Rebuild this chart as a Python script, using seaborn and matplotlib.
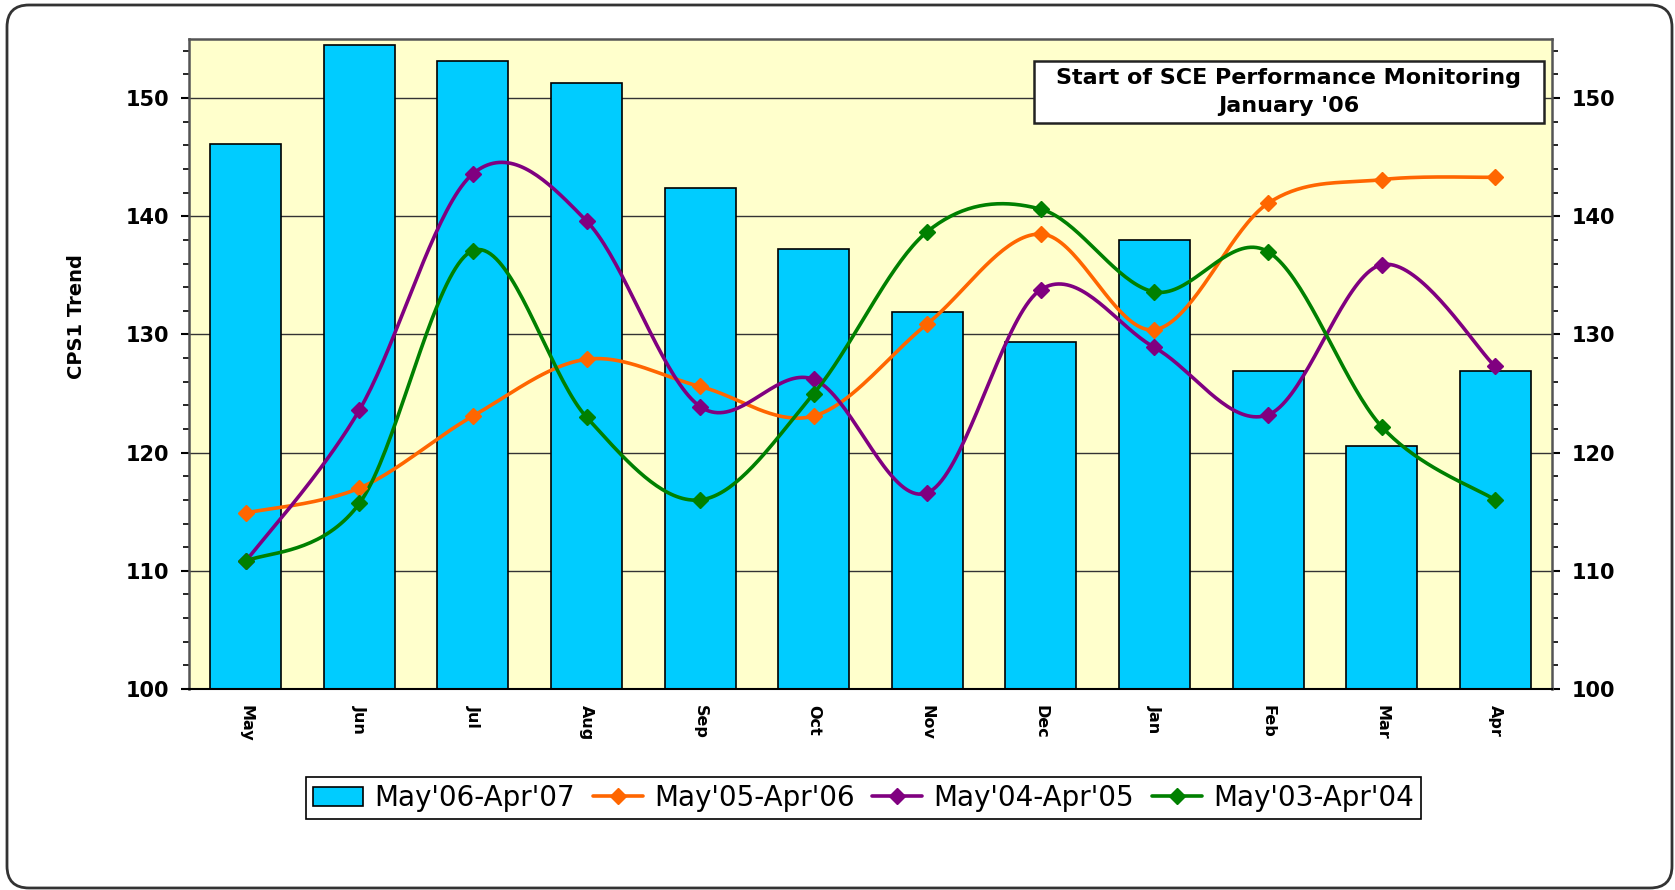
import numpy as np
import matplotlib
matplotlib.use('Agg')
import matplotlib.pyplot as plt
import seaborn as sns
from matplotlib.patches import FancyBboxPatch, Rectangle, Patch
from matplotlib.lines import Line2D
from matplotlib.ticker import MultipleLocator

# datos
meses = ['May', 'Jun', 'Jul', 'Aug', 'Sep', 'Oct', 'Nov', 'Dec', 'Jan', 'Feb', 'Mar', 'Apr']
cps_0607 = [146.1, 154.5, 153.1, 151.3, 142.4, 137.2, 131.9, 129.4, 138.0, 126.9, 120.6, 126.9]
cps_0506 = [114.9, 117.0, 123.1, 127.9, 125.6, 123.1, 130.9, 138.5, 130.4, 141.1, 143.1, 143.3]
cps_0405 = [110.8, 123.6, 143.6, 139.6, 123.9, 126.2, 116.6, 133.8, 128.9, 123.2, 135.9, 127.3]
cps_0304 = [110.8, 115.7, 137.1, 123.0, 116.0, 125.0, 138.7, 140.6, 133.6, 137.0, 122.2, 116.0]

series = [
    ("May'05-Apr'06", cps_0506, '#FF6600'),
    ("May'04-Apr'05", cps_0405, '#800080'),
    ("May'03-Apr'04", cps_0304, '#008000'),
]


def suavizar(xs, ys, n=40):
    # curva suave tipo Excel (bezier / catmull-rom)
    p = np.column_stack([xs, ys]).astype(float)
    p = np.vstack([p[0], p, p[-1]])
    t = np.linspace(0, 1, n)[:, None]
    segs = []
    for i in range(1, len(p) - 2):
        p0, p1, p2, p3 = p[i - 1], p[i], p[i + 1], p[i + 2]
        c1 = p1 + (p2 - p0) / 6
        c2 = p2 - (p3 - p1) / 6
        segs.append((1 - t) ** 3 * p1 + 3 * (1 - t) ** 2 * t * c1 + 3 * (1 - t) * t ** 2 * c2 + t ** 3 * p2)
    out = np.vstack(segs)
    return out[:, 0], out[:, 1]


sns.set_style('white')
plt.rcParams['font.family'] = ['DejaVu Sans']
plt.rcParams['text.color'] = 'black'
plt.rcParams['xtick.color'] = 'black'
plt.rcParams['ytick.color'] = 'black'
plt.rcParams['axes.labelcolor'] = 'black'

fig = plt.figure(figsize=(16.75, 8.9), dpi=100)
ax = fig.add_axes([189 / 1675, 1 - 689 / 890, (1552 - 189) / 1675, (689 - 39) / 890])
ax.set_facecolor('#FFFFCC')

sns.barplot(x=meses, y=cps_0607, color='#00CCFF', width=0.625, edgecolor='black',
            linewidth=1.2, saturation=1, ax=ax, zorder=2)

x = np.arange(len(meses))
for nombre, valores, color in series:
    xs, ys = suavizar(x, valores)
    ax.plot(xs, ys, color=color, lw=2.6, zorder=3, solid_capstyle='round')
    ax.plot(x, valores, linestyle='none', marker='D', markersize=8, color=color, zorder=4)

ax.set_xlim(-0.5, 11.5)
ax.set_ylim(100, 155)
ax.yaxis.set_major_locator(MultipleLocator(10))
ax.yaxis.set_minor_locator(MultipleLocator(2))
ax.yaxis.grid(True, which='major', color='#333333', lw=1.0, zorder=1)
ax.set_axisbelow(True)

ax.set_xticks(x)
ax.set_xticklabels(meses, rotation=270, fontsize=11.5, fontweight='bold')
ax.set_xticks(np.arange(-0.5, 12, 1), minor=True)
ax.tick_params(axis='x', which='major', length=0, pad=11.5)
ax.tick_params(axis='x', which='minor', length=4, width=1.2, direction='out')

ax.tick_params(axis='y', which='major', length=6, width=1.5, direction='out',
               left=True, right=True, labelleft=True, labelright=True, labelsize=15, pad=8)
ax.tick_params(axis='y', which='minor', length=4, width=1.2, direction='out', left=True, right=True)
for lbl in ax.get_yticklabels():
    lbl.set_fontweight('bold')
ax.set_xlabel('')
ax.set_ylabel('')

for s in ['left', 'top', 'right']:
    ax.spines[s].set_color('#555555')
    ax.spines[s].set_linewidth(1.8)
ax.spines['bottom'].set_color('black')
ax.spines['bottom'].set_linewidth(1.5)

fig.text(77 / 1675, 1 - 317 / 890, 'CPS1 Trend', rotation=90, ha='center', va='center',
         fontsize=14, fontweight='bold')

# cuadro de anotacion
fig.patches.append(Rectangle((1034 / 1675, 1 - 123 / 890), 510 / 1675, 62 / 890,
                             transform=fig.transFigure, facecolor='white', edgecolor='#222222', lw=1.8))
fig.text(1289 / 1675, 1 - 92 / 890, "Start of SCE Performance Monitoring\nJanuary '06",
         ha='center', va='center', fontsize=16, fontweight='bold', linespacing=1.5)

# marco redondeado
fig.patches.append(FancyBboxPatch((0.07, 0.02), 16.65, 8.83, boxstyle='round,pad=0,rounding_size=0.22',
                                  transform=fig.dpi_scale_trans, facecolor='none', edgecolor='#333333', lw=2))

handles = [Patch(facecolor='#00CCFF', edgecolor='black', lw=1.2, label="May'06-Apr'07")]
for nombre, valores, color in series:
    handles.append(Line2D([0], [0], color=color, lw=2.6, marker='D', markersize=8, label=nombre))
leg = fig.legend(handles=handles, loc='center', bbox_to_anchor=(863.5 / 1675, 1 - 798 / 890), ncol=4,
                 fontsize=20, frameon=True, fancybox=False, framealpha=1, edgecolor='black',
                 handlelength=1.8, handletextpad=0.4, columnspacing=0.65, borderpad=0.25)
leg.get_frame().set_linewidth(1.2)

fig.savefig('out.png', dpi=100, facecolor='white')
